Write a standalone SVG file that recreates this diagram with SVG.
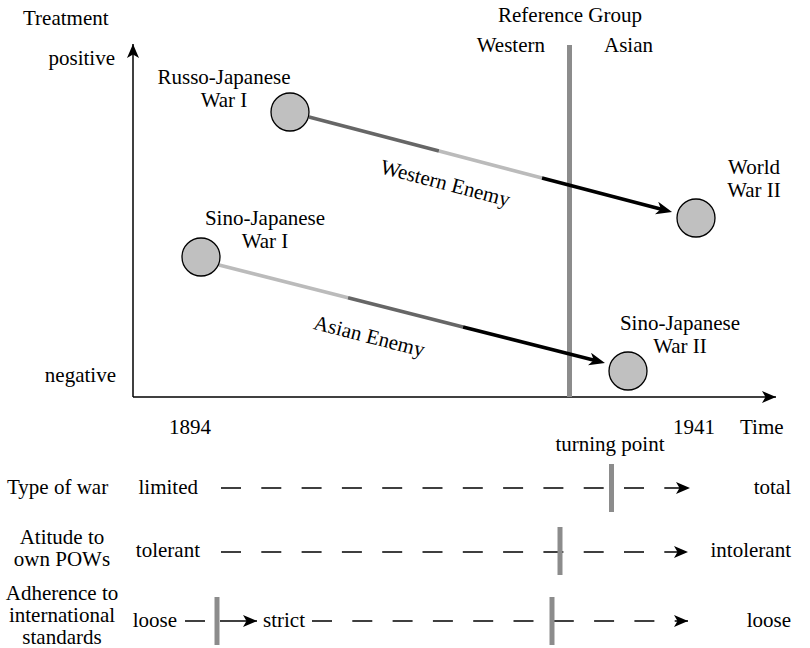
<svg xmlns="http://www.w3.org/2000/svg" width="810" height="648" viewBox="0 0 810 648">
<style>
text{font-family:"Liberation Serif","Times New Roman",serif;font-size:21px;fill:#000}
.mid{text-anchor:middle}
.end{text-anchor:end}
.axis{stroke:#000;stroke-width:1.5;fill:none}
.bar{stroke:#8c8c8c;stroke-width:5;fill:none}
.node{fill:#c0c0c0;stroke:#000;stroke-width:1.3}
.dark{stroke:#666;stroke-width:3.5;fill:none}
.light{stroke:#bbb;stroke-width:3.5;fill:none}
.black{stroke:#000;stroke-width:3.5;fill:none}
.dash{stroke:#000;stroke-width:1.5;fill:none;stroke-dasharray:20 20.3}
.solid{stroke:#000;stroke-width:1.5;fill:none}
</style>
<defs>
<marker id="big" markerUnits="userSpaceOnUse" markerWidth="18" markerHeight="14" refX="8" refY="6.5" orient="auto">
<path d="M0,0 L16,6.5 L0,13 L4.5,6.5 z" fill="#000"/>
</marker>
<marker id="small" markerUnits="userSpaceOnUse" markerWidth="16" markerHeight="12" refX="14" refY="6" orient="auto">
<path d="M0,0 L14,6 L0,12 L3.5,6 z" fill="#000"/>
</marker>
</defs>

<g id="axes">
<line class="axis" x1="133" y1="397" x2="133" y2="44" marker-end="url(#small)"/>
<line class="axis" x1="133" y1="397" x2="776" y2="397" marker-end="url(#small)"/>
<line class="bar" x1="569.5" y1="45" x2="569.5" y2="397"/>
<text x="23" y="25">Treatment</text>
<text class="end" x="115" y="65">positive</text>
<text class="end" x="116" y="382">negative</text>
<text class="end" x="642" y="22">Reference Group</text>
<text class="end" x="545" y="52">Western</text>
<text x="604" y="52">Asian</text>
<text class="mid" x="190" y="434">1894</text>
<text class="mid" x="694" y="434">1941</text>
<text x="740" y="434">Time</text>
</g>

<g id="connectors">
<line class="dark" x1="309" y1="117" x2="439" y2="151"/>
<line class="light" x1="439" y1="151" x2="542" y2="178"/>
<line class="black" x1="542" y1="178" x2="664.3" y2="210" marker-end="url(#big)"/>
<text class="mid" transform="translate(445,184) rotate(14.7)" y="6">Western Enemy</text>
<line class="light" x1="219" y1="265" x2="348" y2="297.8"/>
<line class="dark" x1="348" y1="297.8" x2="463" y2="327"/>
<line class="black" x1="463" y1="327" x2="597.2" y2="361" marker-end="url(#big)"/>
<text class="mid" transform="translate(369,337) rotate(14.3)" y="6">Asian Enemy</text>
</g>

<g id="node-rj1">
<circle class="node" cx="290" cy="112" r="19"/>
<text class="mid" x="224" y="84">Russo-Japanese</text>
<text class="mid" x="224" y="107">War I</text>
</g>
<g id="node-ww2">
<circle class="node" cx="696" cy="218" r="19"/>
<text class="mid" x="754" y="174">World</text>
<text class="mid" x="754" y="197">War II</text>
</g>
<g id="node-sj1">
<circle class="node" cx="201" cy="257" r="19"/>
<text class="mid" x="265" y="225">Sino-Japanese</text>
<text class="mid" x="265" y="248">War I</text>
</g>
<g id="node-sj2">
<circle class="node" cx="628" cy="371" r="19"/>
<text class="mid" x="680" y="330">Sino-Japanese</text>
<text class="mid" x="680" y="353">War II</text>
</g>

<g id="row-war">
<text class="mid" x="610" y="451">turning point</text>
<text x="7" y="494">Type of war</text>
<text class="end" x="198" y="494">limited</text>
<line class="dash" x1="221" y1="488" x2="690" y2="488" marker-end="url(#small)"/>
<line class="bar" x1="611.5" y1="464" x2="611.5" y2="512"/>
<text class="end" x="791" y="494">total</text>
</g>

<g id="row-pow">
<text class="mid" x="62" y="544">Atitude to</text>
<text class="mid" x="62" y="566">own POWs</text>
<text class="end" x="200" y="557">tolerant</text>
<line class="dash" x1="221" y1="552" x2="688" y2="552" marker-end="url(#small)"/>
<line class="bar" x1="560" y1="527" x2="560" y2="575"/>
<text class="end" x="791" y="557">intolerant</text>
</g>

<g id="row-standards">
<text class="mid" x="62" y="600">Adherence to</text>
<text class="mid" x="62" y="622">international</text>
<text class="mid" x="62" y="644">standards</text>
<text class="end" x="177" y="627">loose</text>
<line class="solid" x1="185" y1="621" x2="205" y2="621"/>
<line class="bar" x1="217" y1="597" x2="217" y2="645"/>
<line class="solid" x1="220" y1="621" x2="257" y2="621" marker-end="url(#small)"/>
<text x="263" y="627">strict</text>
<line class="dash" x1="312" y1="621" x2="688" y2="621" marker-end="url(#small)"/>
<line class="bar" x1="552" y1="597" x2="552" y2="645"/>
<text class="end" x="791" y="627">loose</text>
</g>
</svg>
